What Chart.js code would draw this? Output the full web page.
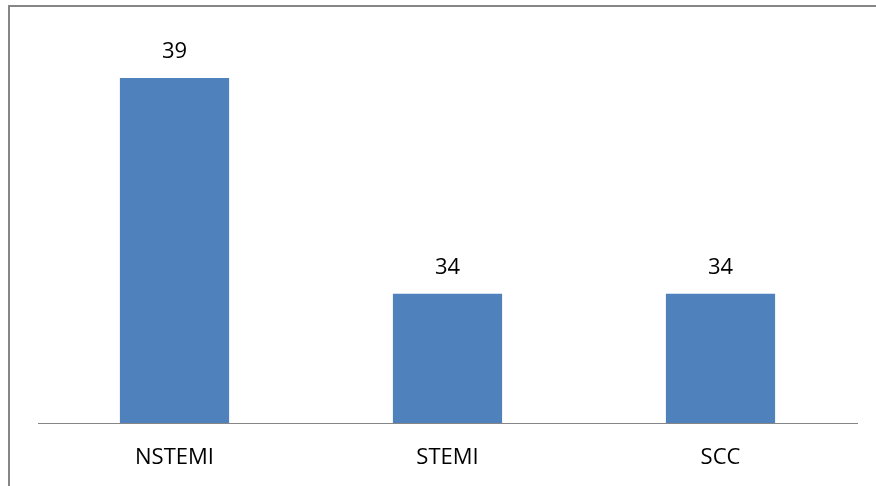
<!DOCTYPE html>
<html>
<head>
<meta charset="utf-8">
<script src="https://cdn.jsdelivr.net/npm/chart.js@4"></script>
<style>
  body { margin: 0; background: #fff; }
  canvas { display: block; }
</style>
</head>
<body>
<canvas id="grafica" width="876" height="486"></canvas>
<script>
// Datos de la gráfica
const categorias = ["NSTEMI", "STEMI", "SCC"];
const valores = [39, 34, 34];

// Marco gris (solo se ve el borde superior e izquierdo)
const marco = {
    id: 'marco',
    beforeDraw(chart) {
        const ctx = chart.ctx;
        ctx.save();
        ctx.fillStyle = '#ffffff';
        ctx.fillRect(0, 0, chart.width, chart.height);
        ctx.strokeStyle = '#868686';
        ctx.lineWidth = 2;
        ctx.beginPath();
        ctx.moveTo(9, chart.height);
        ctx.lineTo(9, 6);
        ctx.lineTo(chart.width, 6);
        ctx.stroke();
        ctx.restore();
    }
};

// Etiquetas de valor encima de cada barra
const etiquetas = {
    id: 'etiquetas',
    afterDatasetsDraw(chart) {
        const ctx = chart.ctx;
        const meta = chart.getDatasetMeta(0);
        ctx.save();
        ctx.font = '22px "Open Sans"';
        ctx.fillStyle = '#000000';
        ctx.textAlign = 'center';
        ctx.textBaseline = 'middle';
        meta.data.forEach((barra, i) => {
            ctx.fillText(String(valores[i]), barra.x, barra.y - 26);
        });
        ctx.restore();
    }
};

const ctx = document.getElementById('grafica').getContext('2d');
new Chart(ctx, {
    type: 'bar',
    data: {
        labels: categorias,
        datasets: [{
            data: valores,
            backgroundColor: '#4f81bd',
            borderWidth: 0,
            categoryPercentage: 1,
            barPercentage: 0.4
        }]
    },
    options: {
        responsive: false,
        animation: false,
        layout: {
            padding: { left: 38, right: 19, top: 35, bottom: 14 }
        },
        plugins: {
            legend: { display: false },
            tooltip: { enabled: false }
        },
        scales: {
            x: {
                grid: { display: false, drawTicks: false },
                border: { display: true, color: '#868686', width: 1 },
                ticks: {
                    color: '#000000',
                    padding: 22,
                    font: { family: 'Open Sans', size: 22 }
                },
                afterFit(scale) {
                    scale.height = 49;
                }
            },
            y: {
                display: false,
                min: 31,
                max: 40
            }
        }
    },
    plugins: [marco, etiquetas]
});
</script>
</body>
</html>
